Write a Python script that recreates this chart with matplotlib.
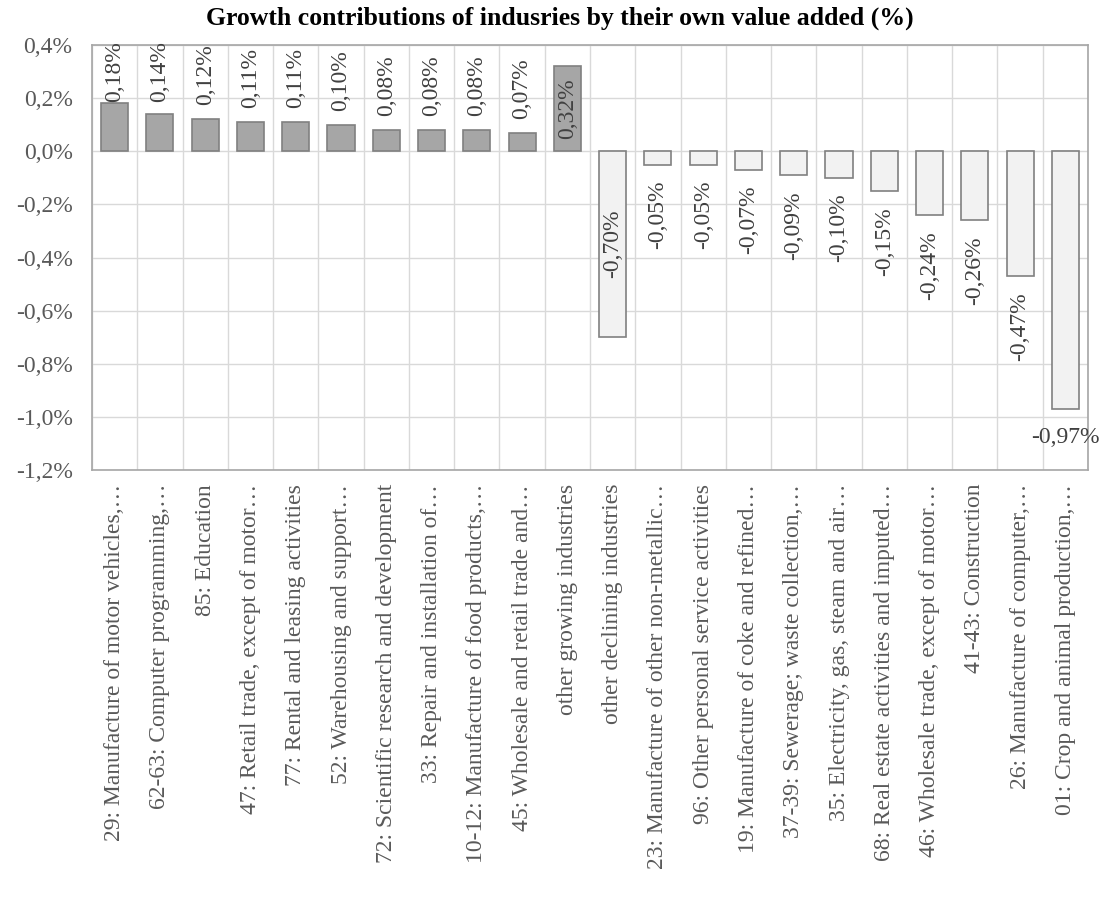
import matplotlib
matplotlib.use("Agg")
import matplotlib.pyplot as plt
import numpy as np

categories = [
    "29: Manufacture of motor vehicles,…",
    "62-63: Computer programming,…",
    "85: Education",
    "47: Retail trade, except of motor…",
    "77: Rental and leasing activities",
    "52: Warehousing and support…",
    "72: Scientific research and development",
    "33: Repair and installation of…",
    "10-12: Manufacture of food products,…",
    "45: Wholesale and retail trade and…",
    "other growing industries",
    "other declining industries",
    "23: Manufacture of other non-metallic…",
    "96: Other personal service activities",
    "19: Manufacture of coke and refined…",
    "37-39: Sewerage; waste collection,…",
    "35: Electricity, gas, steam and air…",
    "68: Real estate activities and imputed…",
    "46: Wholesale trade, except of motor…",
    "41-43: Construction",
    "26: Manufacture of computer,…",
    "01: Crop and animal production,…",
]
values = [0.18, 0.14, 0.12, 0.11, 0.11, 0.10, 0.08, 0.08, 0.08, 0.07, 0.32,
          -0.70, -0.05, -0.05, -0.07, -0.09, -0.10, -0.15, -0.24, -0.26, -0.47, -0.97]
yticks = [0.4, 0.2, 0.0, -0.2, -0.4, -0.6, -0.8, -1.0, -1.2]

plt.rcParams['font.family'] = ['Liberation Serif', 'DejaVu Serif']

fig = plt.figure(figsize=(11.07, 8.98), dpi=100)
ax = fig.add_axes([92/1107, 1-470/898, (1088-92)/1107, (470-45)/898])

x = np.arange(len(values))
cols = ['#a6a6a6' if v > 0 else '#f2f2f2' for v in values]
ax.bar(x, values, width=0.6, color=cols, edgecolor='#808080', linewidth=1.2, zorder=3)

ax.set_xlim(-0.5, len(values) - 0.5)
ax.set_ylim(-1.2, 0.4)
ax.set_yticks(yticks)
ax.set_yticklabels([f"{t:.1f}%".replace('.', ',') for t in yticks], fontsize=17, color='#595959')
ax.set_xticks(x)
ax.set_xticklabels(categories, rotation=90, fontsize=17, color='#595959', ha='center', va='top')
ax.set_xticks(np.arange(len(values) + 1) - 0.5, minor=True)
ax.tick_params(axis='y', which='both', length=0, pad=14)
ax.tick_params(axis='x', which='both', length=0, pad=10)
ax.grid(True, axis='y', color='#d9d9d9', linewidth=1, zorder=0)
ax.grid(True, axis='x', which='minor', color='#d9d9d9', linewidth=1, zorder=0)
ax.grid(False, axis='x', which='major')
for s in ax.spines.values():
    s.set_color('#a6a6a6')
    s.set_linewidth(1.2)

for i, v in enumerate(values):
    lab = f"{v:.2f}%".replace('.', ',')
    if i == 10 or i == 11:
        ax.text(i, v / 2, lab, rotation=90, ha='center', va='center', fontsize=17, color='#404040', zorder=4)
    elif i == len(values) - 1:
        ax.text(i, v - 0.107, lab, ha='center', va='center', fontsize=17, color='#404040', zorder=4)
    elif v > 0:
        ax.text(i, min(v + 0.053, 0.185), lab, rotation=90, ha='center', va='bottom', fontsize=17, color='#404040', zorder=4)
    else:
        ax.text(i, v - 0.06, lab, rotation=90, ha='center', va='top', fontsize=17, color='#404040', zorder=4)

fig.text(560/1107, 1-18/898, "Growth contributions of indusries by their own value added (%)",
         ha='center', va='center', fontsize=18.5, fontweight='bold', color='black')

fig.savefig('out.png', dpi=100, facecolor='white')
